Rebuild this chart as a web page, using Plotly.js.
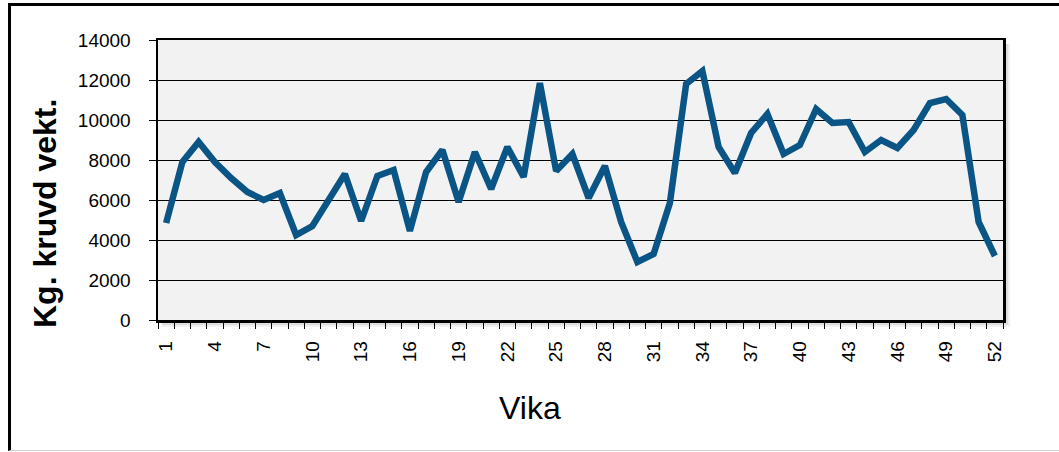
<!DOCTYPE html>
<html>
<head>
<meta charset="utf-8">
<script src="https://cdn.plot.ly/plotly-3.0.1.min.js"></script>
<style>
html,body{margin:0;padding:0;background:#fff;}
#wrap{position:relative;width:1059px;height:452px;overflow:hidden;}
#frame{position:absolute;left:8px;top:3px;width:1100px;height:444px;border-left:3px solid #000;border-top:3px solid #000;border-bottom:1px solid #d0d0d0;}
#chart{position:absolute;left:0;top:0;width:1059px;height:452px;}
</style>
</head>
<body>
<div id="wrap">
<div id="frame"></div>
<div id="chart"></div>
</div>
<script>
const weeks = Array.from({length: 52}, (_, i) => i + 1);
const kgValues = [
  4850, 7900, 8900, 7900, 7100, 6400, 6000, 6350, 4250, 4700,
  6000, 7300, 4950, 7200, 7500, 4450, 7400, 8500, 5900, 8400,
  6550, 8650, 7150, 11850, 7450, 8300, 6100, 7700, 4900, 2900,
  3300, 5850, 11800, 12450, 8650, 7350, 9350, 10300, 8300, 8750,
  10550, 9850, 9900, 8400, 9000, 8600, 9500, 10850, 11050, 10250,
  4900, 3200
];
const xTickVals = [1,4,7,10,13,16,19,22,25,28,31,34,37,40,43,46,49,52];
const xTickText = xTickVals.map(String);
const yTickVals = [0,2000,4000,6000,8000,10000,12000,14000];
const yTickText = yTickVals.map(String);

const FONT = '"Liberation Sans", Arial, sans-serif';
const px = 1/845, py = 1/280;

const shapes = [];
[[7,0.06],[5,0.08],[3,0.10]].forEach(([o,a]) => {
  shapes.push({type:'rect', xref:'paper', yref:'paper', layer:'below',
    x0: 1, x1: 1 + o*px, y0: -o*py, y1: 1 - 4*py,
    fillcolor:'rgba(0,0,0,'+a+')', line:{width:0}});
  shapes.push({type:'rect', xref:'paper', yref:'paper', layer:'below',
    x0: 4*px, x1: 1, y0: -o*py, y1: 0,
    fillcolor:'rgba(0,0,0,'+a+')', line:{width:0}});
});

const data = [{
  type:'scatter', mode:'lines',
  x: weeks, y: kgValues,
  line:{color:'#0a5586', width:6.5},
  hoverinfo:'skip'
}];

const layout = {
  width:1059, height:452,
  margin:{l:158, r:56, t:40, b:132, pad:0},
  paper_bgcolor:'rgba(0,0,0,0)',
  plot_bgcolor:'#f2f2f2',
  showlegend:false,
  font:{family:FONT, color:'#000', size:19},
  xaxis:{
    range:[0.5, 52.5],
    tickmode:'array', tickvals:xTickVals, ticktext:xTickText,
    tickangle:-90,
    ticks:'', ticklabelstandoff:11,
    minor:{tickmode:'linear', tick0:0.5, dtick:1, ticks:'outside', ticklen:6, tickcolor:'#000', tickwidth:1, showgrid:false},
    showgrid:false, zeroline:false,
    showline:true, linecolor:'#000', linewidth:2.5, mirror:true,
    tickfont:{family:FONT, size:19, color:'#000'}
  },
  yaxis:{
    range:[0, 14000],
    tickmode:'array', tickvals:yTickVals, ticktext:yTickText,
    ticks:'outside', ticklen:7, tickcolor:'#000', tickwidth:1,
    ticklabelstandoff:14,
    showgrid:true, gridcolor:'#000', gridwidth:1,
    zeroline:false,
    showline:true, linecolor:'#000', linewidth:2.5, mirror:true,
    tickfont:{family:FONT, size:19, color:'#000'}
  },
  shapes: shapes,
  annotations:[
    {text:'Vika', xref:'paper', yref:'paper', x:(530-158)/845, y:(320-408)/280,
     xanchor:'center', yanchor:'middle', showarrow:false,
     font:{family:FONT, size:32, color:'#000'}},
    {text:'<b>Kg. kruvd vekt.</b>', xref:'paper', yref:'paper', x:(45-158)/845, y:(320-214)/280,
     xanchor:'center', yanchor:'middle', textangle:-90, showarrow:false,
     font:{family:FONT, size:32, color:'#000'}}
  ]
};

Plotly.newPlot('chart', data, layout, {displayModeBar:false, staticPlot:true});
</script>
</body>
</html>
